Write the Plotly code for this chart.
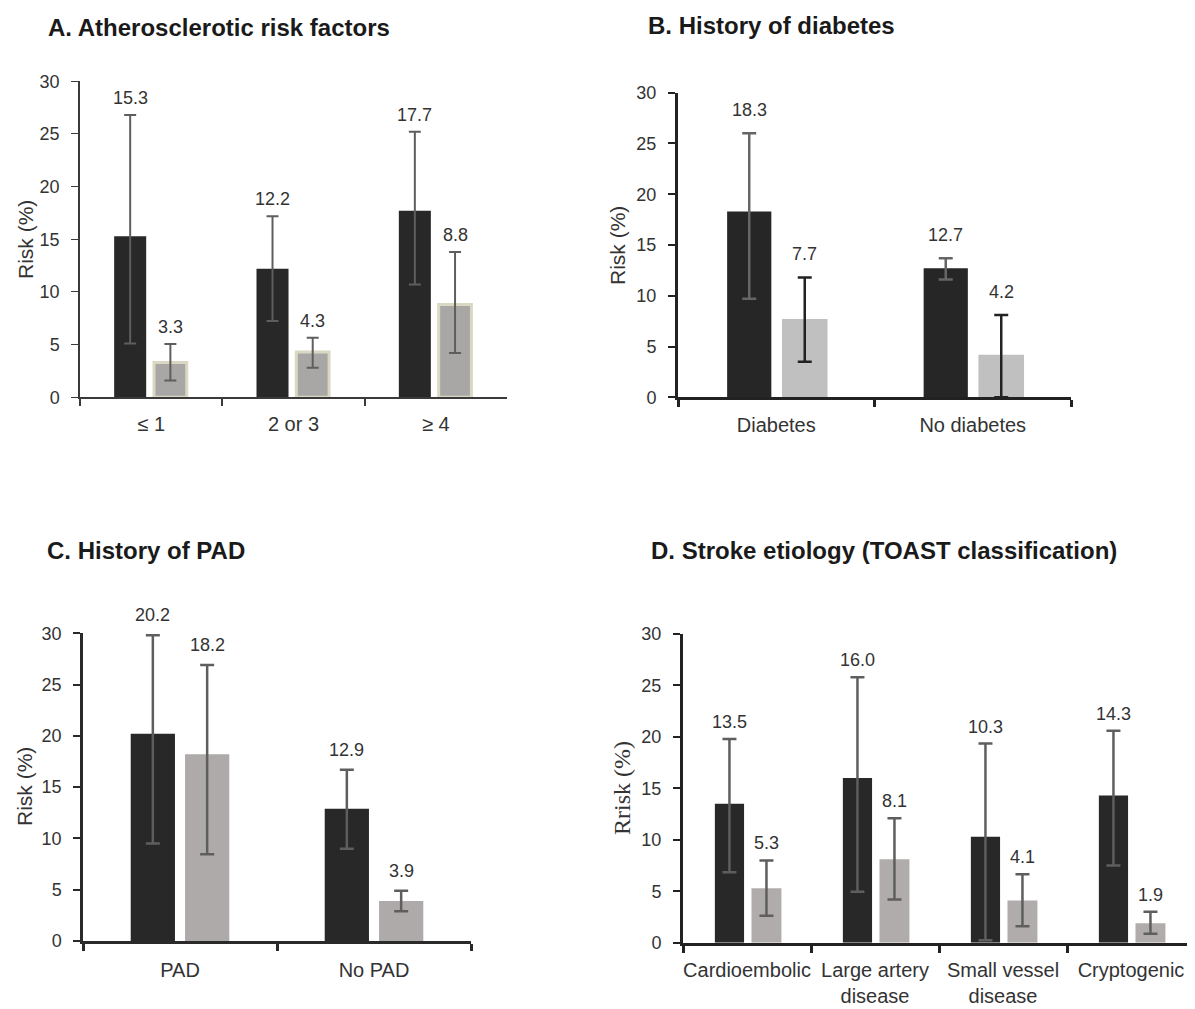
import plotly.graph_objects as go

# page body adds an 8px margin; the figure is sized/placed to compensate
PAGE_OFF = 8
W, H = 1195 - PAGE_OFF, 1009 - PAGE_OFF

# ---------------- data ----------------
a_cats = ["≤ 1", "2 or 3", "≥ 4"]
a_black = [15.3, 12.2, 17.7]
a_black_hi = [26.8, 17.2, 25.2]
a_black_lo = [5.1, 7.25, 10.7]
a_grey = [3.3, 4.3, 8.8]
a_grey_hi = [5.06, 5.66, 13.8]
a_grey_lo = [1.6, 2.8, 4.2]

b_cats = ["Diabetes", "No diabetes"]
b_black = [18.3, 12.7]
b_black_hi = [26.0, 13.7]
b_black_lo = [9.7, 11.6]
b_grey = [7.7, 4.2]
b_grey_hi = [11.8, 8.1]
b_grey_lo = [3.5, 0.0]

c_cats = ["PAD", "No PAD"]
c_black = [20.2, 12.9]
c_black_hi = [29.8, 16.7]
c_black_lo = [9.5, 9.0]
c_grey = [18.2, 3.9]
c_grey_hi = [26.9, 4.9]
c_grey_lo = [8.45, 2.9]

d_cats = ["Cardioembolic", "Large artery<br>disease", "Small vessel<br>disease", "Cryptogenic"]
d_black = [13.5, 16.0, 10.3, 14.3]
d_black_hi = [19.8, 25.8, 19.35, 20.6]
d_black_lo = [6.85, 4.95, 0.25, 7.5]
d_grey = [5.3, 8.1, 4.1, 1.9]
d_grey_hi = [8.0, 12.1, 6.65, 3.0]
d_grey_lo = [2.63, 4.2, 1.6, 0.87]

titles = ["A. Atherosclerotic risk factors", "B. History of diabetes",
          "C. History of PAD", "D. Stroke etiology (TOAST classification)"]
y_titles = ["Risk (%)", "Risk (%)", "Risk (%)", "Rrisk (%)"]

# ---------------- styling / layout (pixels) ----------------
SANS = "Liberation Sans, Arial, sans-serif"
SERIF = "Liberation Serif, Times New Roman, serif"

def px_x(x):
    return (x - PAGE_OFF) / W

def px_y(y):
    return (H - (y - PAGE_OFF)) / H

panels = [
    dict(cats=a_cats, black=a_black, bhi=a_black_hi, blo=a_black_lo,
         grey=a_grey, ghi=a_grey_hi, glo=a_grey_lo,
         xd=(80, 507), yd=(81.3, 397.3),
         boff=-0.26, bw=0.225, goff=0.02, gw=0.23,
         bcol="#282828", gcol="#a9a6a6", gline=dict(color="#dad8c2", width=3),
         berr="#5e5e5e", gerr="#5e5e5e", ethick=2, ecap=6, lshift=17,
         axcol="#3a3a3a", axw=1.5, xstand=8,
         title_xy=(46, 27), ytitle_xy=(25, 240), ytfont=SANS, ytsize=21),
    dict(cats=b_cats, black=b_black, bhi=b_black_hi, blo=b_black_lo,
         grey=b_grey, ghi=b_grey_hi, glo=b_grey_lo,
         xd=(678, 1071), yd=(92.7, 397.3),
         boff=-0.25, bw=0.225, goff=0.029, gw=0.232,
         bcol="#262626", gcol="#c0c0c0", gline=dict(width=0),
         berr="#666666", gerr="#222222", ethick=2.5, ecap=7, lshift=23,
         axcol="#222222", axw=3, xstand=8,
         title_xy=(646, 26), ytitle_xy=(618, 245), ytfont=SANS, ytsize=21),
    dict(cats=c_cats, black=c_black, bhi=c_black_hi, blo=c_black_lo,
         grey=c_grey, ghi=c_grey_hi, glo=c_grey_lo,
         xd=(83, 471), yd=(633.3, 941),
         boff=-0.254, bw=0.228, goff=0.026, gw=0.228,
         bcol="#282828", gcol="#aeaaaa", gline=dict(width=0),
         berr="#5e5e5e", gerr="#5e5e5e", ethick=2.5, ecap=7, lshift=20,
         axcol="#2a2a2a", axw=2.5, xstand=9,
         title_xy=(45, 550), ytitle_xy=(24, 787), ytfont=SANS, ytsize=21),
    dict(cats=d_cats, black=d_black, bhi=d_black_hi, blo=d_black_lo,
         grey=d_grey, ghi=d_grey_hi, glo=d_grey_lo,
         xd=(683, 1195), yd=(634, 942.7),
         boff=-0.251, bw=0.228, goff=0.035, gw=0.234,
         bcol="#282828", gcol="#b0acac", gline=dict(width=0),
         berr="#5e5e5e", gerr="#5e5e5e", ethick=2.5, ecap=7, lshift=17,
         axcol="#222222", axw=3, xstand=7,
         title_xy=(649, 550), ytitle_xy=(622, 788), ytfont=SERIF, ytsize=24),
]

fig = go.Figure()
annotations = []
layout_axes = {}

for k, p in enumerate(panels):
    n = k + 1
    xa = "x" if n == 1 else f"x{n}"
    ya = "y" if n == 1 else f"y{n}"

    for vals, hi, lo, off, wd, col, line, ecol in [
        (p["black"], p["bhi"], p["blo"], p["boff"], p["bw"], p["bcol"], dict(width=0), p["berr"]),
        (p["grey"], p["ghi"], p["glo"], p["goff"], p["gw"], p["gcol"], p["gline"], p["gerr"]),
    ]:
        fig.add_trace(go.Bar(
            x=p["cats"], y=vals, xaxis=xa, yaxis=ya,
            offset=off, width=wd,
            marker=dict(color=col, line=line),
            error_y=dict(type="data", symmetric=False,
                         array=[h - v for h, v in zip(hi, vals)],
                         arrayminus=[v - l for v, l in zip(vals, lo)],
                         color=ecol, thickness=p["ethick"], width=p["ecap"]),
            showlegend=False, hoverinfo="skip",
        ))
        for i, (v, h) in enumerate(zip(vals, hi)):
            annotations.append(dict(
                x=i + off + wd / 2, y=h, xref=xa, yref=ya,
                text=f"{v:.1f}", showarrow=False, yanchor="middle",
                yshift=p["lshift"],
                font=dict(family=SANS, size=18, color="#333333"),
            ))

    xkey = "xaxis" if n == 1 else f"xaxis{n}"
    ykey = "yaxis" if n == 1 else f"yaxis{n}"
    layout_axes[xkey] = dict(
        domain=[px_x(p["xd"][0]), min(1.0, px_x(p["xd"][1]))], anchor=ya,
        type="category", range=[-0.5, len(p["cats"]) - 0.5],
        tickson="boundaries", ticks="outside", ticklen=7, tickwidth=p["axw"],
        tickcolor=p["axcol"], showline=True, linecolor=p["axcol"], linewidth=p["axw"],
        showgrid=False, zeroline=False, ticklabelstandoff=p["xstand"], tickangle=0,
        automargin=False,
        tickfont=dict(family=SANS, size=20, color="#333333"), fixedrange=True,
    )
    layout_axes[ykey] = dict(
        domain=[px_y(p["yd"][1]), px_y(p["yd"][0])], anchor=xa,
        range=[0, 30], tickvals=[0, 5, 10, 15, 20, 25, 30],
        ticks="outside", ticklen=7, tickwidth=p["axw"] * 0.8, tickcolor=p["axcol"],
        showline=True, linecolor=p["axcol"], linewidth=p["axw"],
        showgrid=False, zeroline=False, ticklabelstandoff=8, automargin=False,
        tickfont=dict(family=SANS, size=18, color="#333333"), fixedrange=True,
    )

    tx, ty = p["title_xy"]
    annotations.append(dict(
        x=px_x(tx), y=px_y(ty), xref="paper", yref="paper",
        xanchor="left", yanchor="middle", showarrow=False,
        text=f"<b>{titles[k]}</b>",
        font=dict(family=SANS, size=24, color="#1a1a1a"),
    ))
    yx, yy = p["ytitle_xy"]
    annotations.append(dict(
        x=px_x(yx), y=px_y(yy), xref="paper", yref="paper",
        xanchor="center", yanchor="middle", showarrow=False, textangle=-90,
        text=y_titles[k],
        font=dict(family=p["ytfont"], size=p["ytsize"], color="#333333"),
    ))

fig.update_layout(
    width=W, height=H,
    margin=dict(l=0, r=0, t=0, b=0, autoexpand=False),
    paper_bgcolor="white", plot_bgcolor="white",
    barmode="overlay",
    annotations=annotations,
    **layout_axes,
)

fig.write_html("out.html", config={"displayModeBar": False})
